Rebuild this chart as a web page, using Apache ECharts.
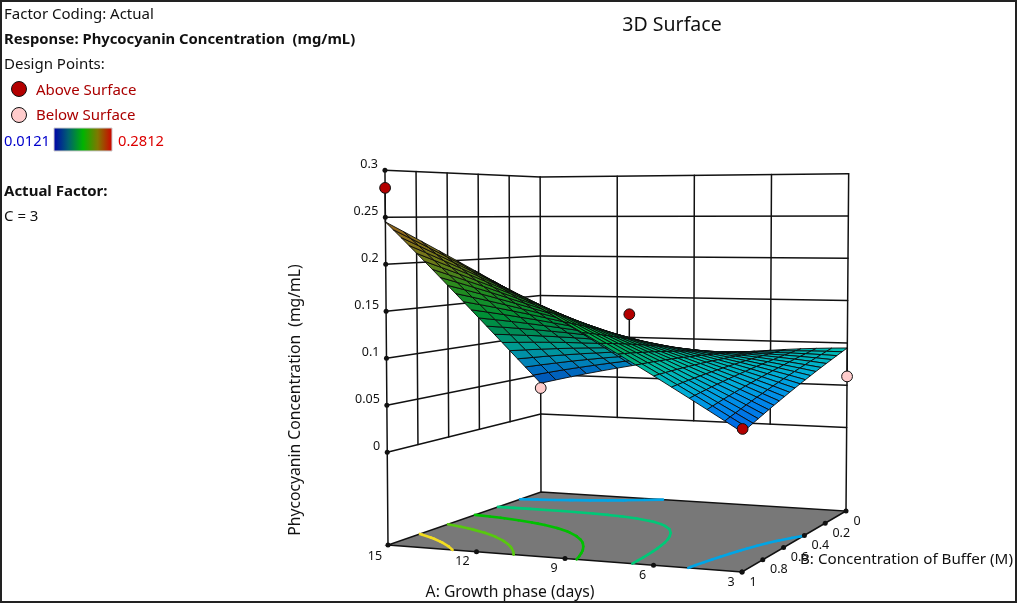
<!DOCTYPE html>
<html><head><meta charset="utf-8"><style>html,body{margin:0;padding:0;background:#fff}#c{width:1019px;height:605px}</style>
<script src="https://cdn.jsdelivr.net/npm/echarts@6/dist/echarts.min.js"></script></head><body><div id="c"></div>
<script>
const aTicks=[15,12,9,6,3];
const bTicks=[1,0.8,0.6,0.4,0.2,0];
const zTicks=[0,0.05,0.1,0.15,0.2,0.25,0.3];
const zFloor=-0.0987;
const aGrid=[15,14.4,13.8,13.2,12.6,12,11.4,10.8,10.2,9.6,9,8.4,7.8,7.2,6.6,6,5.4,4.8,4.2,3.6,3];
const bGrid=[0,.05,.1,.15,.2,.25,.3,.35,.4,.45,.5,.55,.6,.65,.7,.75,.8,.85,.9,.95,1];
// response: one row per aGrid value, one column per bGrid value
const surface=[
[.0390,.0512,.0632,.0750,.0866,.0980,.1092,.1202,.1310,.1416,.1520,.1622,.1722,.1820,.1916,.2010,.2102,.2192,.2280,.2366,.2450],
[.0439,.0553,.0665,.0774,.0882,.0988,.1093,.1195,.1295,.1394,.1490,.1585,.1677,.1768,.1857,.1944,.2029,.2113,.2194,.2273,.2351],
[.0486,.0592,.0695,.0797,.0897,.0995,.1091,.1186,.1279,.1370,.1459,.1546,.1632,.1715,.1797,.1878,.1956,.2032,.2107,.2180,.2251],
[.0531,.0628,.0724,.0817,.0909,.1000,.1088,.1175,.1261,.1344,.1426,.1506,.1585,.1662,.1737,.1810,.1882,.1952,.2020,.2087,.2151],
[.0573,.0662,.0750,.0836,.0920,.1003,.1084,.1163,.1241,.1318,.1392,.1465,.1537,.1607,.1675,.1742,.1807,.1870,.1932,.1993,.2051],
[.0613,.0694,.0774,.0852,.0929,.1004,.1078,.1150,.1220,.1289,.1357,.1423,.1488,.1551,.1612,.1673,.1731,.1788,.1844,.1898,.1951],
[.0651,.0724,.0796,.0867,.0936,.1003,.1070,.1134,.1198,.1260,.1320,.1380,.1437,.1494,.1549,.1603,.1655,.1706,.1755,.1803,.1850],
[.0687,.0752,.0816,.0879,.0941,.1001,.1060,.1117,.1174,.1229,.1283,.1335,.1386,.1436,.1485,.1532,.1578,.1622,.1666,.1708,.1748],
[.0720,.0778,.0834,.0890,.0944,.0997,.1048,.1099,.1148,.1196,.1243,.1289,.1334,.1377,.1419,.1460,.1500,.1538,.1576,.1612,.1647],
[.0751,.0801,.0850,.0898,.0945,.0991,.1035,.1079,.1121,.1163,.1203,.1242,.1280,.1317,.1353,.1388,.1421,.1454,.1485,.1516,.1545],
[.0780,.0822,.0864,.0904,.0944,.0983,.1020,.1057,.1093,.1127,.1161,.1194,.1225,.1256,.1286,.1314,.1342,.1369,.1394,.1419,.1443],
[.0806,.0841,.0875,.0909,.0941,.0973,.1004,.1034,.1063,.1091,.1118,.1144,.1169,.1194,.1217,.1240,.1262,.1283,.1303,.1322,.1340],
[.0830,.0858,.0885,.0911,.0937,.0962,.0986,.1009,.1031,.1053,.1073,.1093,.1112,.1131,.1148,.1165,.1181,.1196,.1211,.1224,.1237],
[.0852,.0872,.0892,.0912,.0930,.0948,.0966,.0982,.0998,.1013,.1028,.1041,.1054,.1067,.1078,.1089,.1099,.1109,.1118,.1126,.1133],
[.0871,.0885,.0898,.0910,.0922,.0933,.0944,.0954,.0963,.0972,.0980,.0988,.0995,.1002,.1007,.1013,.1017,.1021,.1025,.1027,.1030],
[.0888,.0895,.0901,.0907,.0912,.0916,.0921,.0924,.0927,.0930,.0932,.0934,.0935,.0935,.0935,.0935,.0934,.0933,.0931,.0929,.0926],
[.0903,.0903,.0902,.0901,.0900,.0898,.0895,.0893,.0890,.0886,.0882,.0878,.0873,.0868,.0863,.0857,.0850,.0844,.0837,.0829,.0821],
[.0916,.0909,.0901,.0894,.0886,.0877,.0869,.0860,.0851,.0841,.0831,.0821,.0811,.0800,.0789,.0778,.0766,.0754,.0742,.0729,.0716],
[.0926,.0912,.0898,.0884,.0870,.0855,.0840,.0825,.0810,.0794,.0779,.0763,.0747,.0731,.0714,.0698,.0681,.0664,.0646,.0629,.0611],
[.0934,.0914,.0893,.0873,.0852,.0831,.0810,.0789,.0768,.0746,.0725,.0704,.0682,.0660,.0639,.0617,.0595,.0573,.0550,.0528,.0506],
[.0940,.0913,.0886,.0859,.0832,.0805,.0778,.0751,.0724,.0697,.0670,.0643,.0616,.0589,.0562,.0535,.0508,.0481,.0454,.0427,.0400]
];
const contourLevels=[0.072,0.105,0.1376,0.1738,0.2086];
const contourColors=['#00a5e6','#00c878','#00c000','#58c810','#f2dc20'];
const designPoints=[[15,1,0.2812,1],[3,1,0.0435,1],[9,0.5,0.1422,1],[15,0,0.0329,0],[3,0,0.0604,0]];
const palette=[[0,0,60,240],[.104,0,95,225],[.178,0,135,235],[.234,0,170,220],[.31,0,190,170],[.37,0,170,110],[.46,0,175,65],[.6,50,170,35],[.7,130,150,30],[.87,190,120,35],[1,200,0,0]];
const F='"Noto Sans",sans-serif';
function prj(A,B,z){const s=(15-A)/12,t=B;
 let x=541+305*s-153*t+49*s*t,y=492+19*s+53*t+8*s*t;
 const h=(790+56*s+150*t+10*s*t)*(z-zFloor);y-=h;x+=(x-620)*3.5e-5*h;return [x,y];}
function color(z,f){const p=Math.min(1,Math.max(0,(z-.0121)/.2691));let i=0;while(i<palette.length-2&&p>palette[i+1][0])i++;
 const a=palette[i],b=palette[i+1],u=(p-a[0])/(b[0]-a[0]);const c=[1,2,3].map(n=>Math.round((a[n]+(b[n]-a[n])*u)*f));return `rgb(${c})`;}
const seg=(api,p,q,w,col)=>({type:'line',shape:{x1:api.coord(p)[0],y1:api.coord(p)[1],x2:api.coord(q)[0],y2:api.coord(q)[1]},style:{stroke:col||'#111',lineWidth:w||1.2,lineCap:'round'}});
const wallSegs=[];
zTicks.forEach(z=>{wallSegs.push([15,1,z,15,0,z]);wallSegs.push([15,0,z,3,0,z]);});
bTicks.forEach(b=>{wallSegs.push([15,b,(b===1||b===0)?zFloor:0,15,b,.3]);});
aTicks.slice(1).forEach(a=>{wallSegs.push([a,0,a===3?zFloor:0,a,0,.3]);});
const cells=[];for(let k=0;k<20;k++)for(let j=0;j<20;j++)cells.push([k,j]);
cells.sort((p,q)=>(p[1]+.4*p[0])-(q[1]+.4*q[0]));
const contourSegs=[];
contourLevels.forEach((L,li)=>{for(let k=0;k<20;k++)for(let j=0;j<20;j++){
 const c=[[k,j],[k+1,j],[k+1,j+1],[k,j+1]];const pts=[];
 for(let e=0;e<4;e++){const a=c[e],b=c[(e+1)%4],va=surface[a[0]][a[1]],vb=surface[b[0]][b[1]];
  if((va<L)!==(vb<L)){const u=(L-va)/(vb-va);pts.push([aGrid[a[0]]+(aGrid[b[0]]-aGrid[a[0]])*u,bGrid[a[1]]+(bGrid[b[1]]-bGrid[a[1]])*u]);}}
 if(pts.length>=2)contourSegs.push([pts[0][0],pts[0][1],pts[1][0],pts[1][1],li]);}});
const tickLabels=[];
[[15,-13,11],[12,-14,10],[9,-11,10],[6,-11,10],[3,-11,10]].forEach(d=>tickLabels.push([d[0],1,zFloor,d[1],d[2],String(d[0])]));
bTicks.forEach(b=>tickLabels.push([3,b,zFloor,(b===1||b===0)?11:16,10,String(b)]));
zTicks.forEach(z=>tickLabels.push([15,1,z,-7,-6,String(z),'right']));
function rawSeries(name,data,render,z){return {type:'custom',name,data,renderItem:render,coordinateSystem:'cartesian2d',silent:true,clip:false,z,animation:false};}
const series=[
 rawSeries('walls',wallSegs,(p,api)=>{const s=wallSegs[p.dataIndex];return seg(api,prj(s[0],s[1],s[2]),prj(s[3],s[4],s[5]),1.5);},1),
 rawSeries('floor',[[0]],(p,api)=>{const c=[[15,0],[3,0],[3,1],[15,1]].map(q=>api.coord(prj(q[0],q[1],zFloor)));
  return {type:'polygon',shape:{points:c},style:{fill:'#787878',stroke:'#111',lineWidth:1.5}};},2),
 rawSeries('contours',contourSegs,(p,api)=>{const s=contourSegs[p.dataIndex];return seg(api,prj(s[0],s[1],zFloor),prj(s[2],s[3],zFloor),2.6,contourColors[s[4]]);},3),
 rawSeries('tickDots',[].concat(aTicks.map(a=>[a,1,zFloor]),bTicks.map(b=>[3,b,zFloor]),zTicks.map(z=>[15,1,z])),(p,api)=>{
  const c=api.coord(prj(api.value(0),api.value(1),api.value(2)));
  return {type:'circle',shape:{cx:c[0],cy:c[1],r:2.5},style:{fill:'#111'}};},4),
 rawSeries('surface',cells,(p,api)=>{const [k,j]=cells[p.dataIndex];
  const q=[[k,j],[k+1,j],[k+1,j+1],[k,j+1]];const pts=q.map(n=>api.coord(prj(aGrid[n[0]],bGrid[n[1]],surface[n[0]][n[1]])));
  let area=0;for(let i=0;i<4;i++){const a=pts[i],b=pts[(i+1)%4];area+=a[0]*b[1]-b[0]*a[1];}
  const avg=q.reduce((m,n)=>m+surface[n[0]][n[1]],0)/4;
  return {type:'polygon',shape:{points:pts},style:{fill:color(avg,area<0?.82:1),stroke:'#0a0a0a',lineWidth:.9,lineJoin:'round'}};},5),
 rawSeries('stems',designPoints,(p,api)=>{const d=designPoints[p.dataIndex];
  const k=Math.round((15-d[0])/.6),j=Math.round(d[1]/.05);return seg(api,prj(d[0],d[1],surface[k][j]),prj(d[0],d[1],d[2]),1.5);},6),
 rawSeries('designPoints',designPoints,(p,api)=>{const d=designPoints[p.dataIndex];const c=api.coord(prj(d[0],d[1],d[2]));
  return {type:'circle',shape:{cx:c[0],cy:c[1],r:5.4},style:{fill:d[3]?'#b30000':'#ffcccc',stroke:'#111',lineWidth:1}};},7),
 rawSeries('tickLabels',tickLabels,(p,api)=>{const d=tickLabels[p.dataIndex];const c=api.coord(prj(d[0],d[1],d[2]));
  return {type:'text',style:{text:d[5],x:c[0]+d[3],y:c[1]+d[4],fill:'#111',fontSize:12.5,fontFamily:F,align:d[6]||'center',verticalAlign:'middle'}};},8)
];
const T=(text,x,y,o)=>({type:'text',z:10,style:Object.assign({text,x,y,fill:'#111',fontSize:15,fontFamily:F,verticalAlign:'middle'},o||{})});
const graphic=[
 {type:'rect',shape:{x:1,y:1,width:1015,height:601},style:{fill:'none',stroke:'#222',lineWidth:2},z:0},
 T('Factor Coding: Actual',4,15),
 T('Response: Phycocyanin Concentration  (mg/mL)',4,40,{fontWeight:'bold',fontSize:14.8}),
 T('Design Points:',4,65),
 {type:'circle',shape:{cx:19,cy:89,r:7.5},style:{fill:'#b30000',stroke:'#111',lineWidth:1}},
 {type:'circle',shape:{cx:19,cy:115,r:7.5},style:{fill:'#ffcccc',stroke:'#111',lineWidth:1}},
 T('Above Surface',36,91,{fill:'#aa0000'}),
 T('Below Surface',36,116,{fill:'#aa0000'}),
 T('0.0121',4,142,{fill:'#0000cc',fontSize:14.7}),
 {type:'rect',shape:{x:54,y:128,width:58,height:23},style:{stroke:'#ccc',lineWidth:1,fill:new echarts.graphic.LinearGradient(0,0,1,0,[{offset:0,color:'#0000aa'},{offset:.25,color:'#006070'},{offset:.5,color:'#00b400'},{offset:.75,color:'#807800'},{offset:1,color:'#d00000'}])}},
 T('0.2812',118,142,{fill:'#dd0000',fontSize:14.7}),
 T('Actual Factor:',4,192,{fontWeight:'bold'}),
 T('C = 3',4,217),
 T('3D Surface',672,25,{fontSize:19.5,align:'center'}),
 T('A: Growth phase (days)',510,593,{align:'center',fontSize:15.7}),
 T('B: Concentration of Buffer (M)',800,560,{fontSize:15.2}),
 {type:'text',z:10,x:296,y:400,rotation:Math.PI/2,style:{text:'Phycocyanin Concentration  (mg/mL)',fill:'#111',fontSize:15.7,fontFamily:F,align:'center',verticalAlign:'middle'}}
];
const chart=echarts.init(document.getElementById('c'),null,{renderer:'canvas'});
chart.setOption({animation:false,backgroundColor:'#fff',
 grid:{left:0,right:0,top:0,bottom:0},
 xAxis:{type:'value',min:0,max:1019,show:false},
 yAxis:{type:'value',min:0,max:605,inverse:true,show:false},
 series,graphic});
</script></body></html>
